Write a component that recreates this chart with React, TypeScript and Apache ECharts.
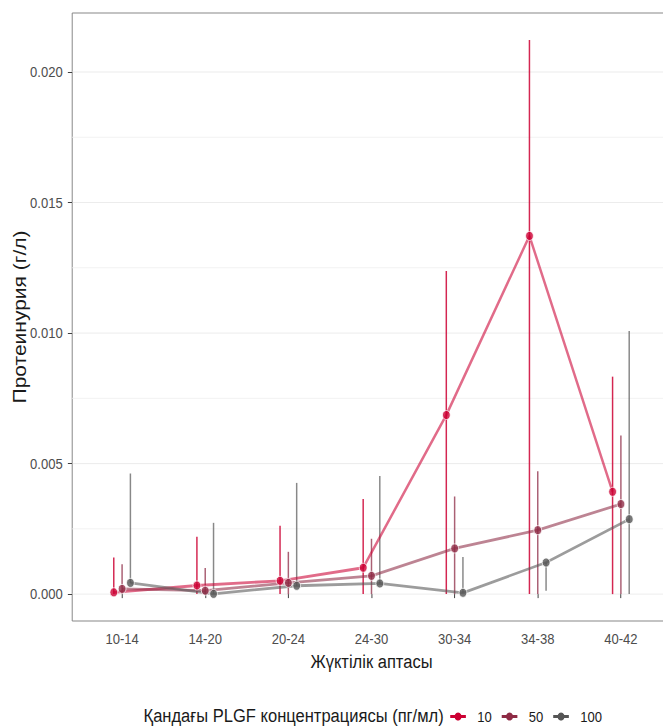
import React, { useEffect, useRef } from "react";
import * as echarts from "echarts";

// Gestational-age groups (x axis)
const categories = ["10-14", "14-20", "20-24", "24-30", "30-34", "34-38", "40-42"];

// PLGF = 10 pg/ml: mean proteinuria and error-bar limits (g/l)
const plgf10Mean = [0.00007, 0.00033, 0.00051, 0.00101, 0.00686, 0.01372, 0.00392];
const plgf10Low = [0, 0, 0, 0, 0, 0, 0];
const plgf10High = [0.0014, 0.0022, 0.00262, 0.00364, 0.01238, 0.02123, 0.00833];

// PLGF = 50 pg/ml
const plgf50Mean = [0.0002, 0.00013, 0.00043, 0.0007, 0.00175, 0.00245, 0.00345];
const plgf50Low = [0, 0, 0, 0, 0, 0, 0];
const plgf50High = [0.00114, 0.001, 0.00162, 0.00212, 0.00374, 0.00471, 0.00608];

// PLGF = 100 pg/ml
const plgf100Mean = [0.00043, 0.00001, 0.00032, 0.00041, 0.00005, 0.00121, 0.00287];
const plgf100Low = [0.00043, 0.00001, 0.00032, 0.00041, 0.00005, 0.00013, 0];
const plgf100High = [0.00462, 0.00273, 0.00426, 0.00452, 0.00142, 0.00121, 0.01008];

// Axis ticks and grid lines
const yTicks = [0, 0.005, 0.01, 0.015, 0.02];
const yMinorGrid = [0.0025, 0.0075, 0.0125, 0.0175];

const FONT = "'Liberation Sans', Arial, Helvetica, sans-serif";

const groups = [
  { name: "10", mean: plgf10Mean, low: plgf10Low, high: plgf10High, color: "#CC0033", barOpacity: 0.85, dodge: -0.1 },
  { name: "50", mean: plgf50Mean, low: plgf50Low, high: plgf50High, color: "#8E2B45", barOpacity: 0.75, dodge: 0 },
  { name: "100", mean: plgf100Mean, low: plgf100Low, high: plgf100High, color: "#555555", barOpacity: 0.7, dodge: 0.1 },
];

function buildOption() {
  const series: any[] = [];

  // light horizontal grid lines
  series.push({
    type: "custom",
    name: "grid",
    silent: true,
    z: 0,
    data: [...yTicks.map((v) => [1, v, 1]), ...yMinorGrid.map((v) => [1, v, 0])],
    renderItem: (params: any, api: any) => {
      const cs = params.coordSys;
      const y = api.coord([1, api.value(1)])[1];
      const major = api.value(2) === 1;
      return {
        type: "line",
        shape: { x1: cs.x, y1: y, x2: cs.x + cs.width, y2: y },
        style: { stroke: major ? "#EBEBEB" : "#F1F1F1", lineWidth: 1 },
      };
    },
  });

  groups.forEach((g) => {
    // error bars
    series.push({
      type: "custom",
      name: "range " + g.name,
      silent: true,
      z: 2,
      data: g.mean.map((_, i) => [i + 1 + g.dodge, g.low[i], g.high[i]]),
      renderItem: (_params: any, api: any) => {
        const x = api.value(0);
        const p1 = api.coord([x, api.value(1)]);
        const p2 = api.coord([x, api.value(2)]);
        return {
          type: "line",
          shape: { x1: p1[0], y1: p1[1], x2: p2[0], y2: p2[1] },
          style: { stroke: g.color, lineWidth: 1.7, opacity: g.barOpacity },
        };
      },
    });
  });

  groups.forEach((g) => {
    // connecting lines
    series.push({
      type: "line",
      name: g.name,
      z: 3,
      showSymbol: false,
      symbol: "circle",
      silent: true,
      itemStyle: { color: g.color },
      lineStyle: { color: g.color, width: 2.8, opacity: 0.58 },
      data: g.mean.map((v, i) => [i + 1 + g.dodge, v]),
    });
  });

  groups.forEach((g) => {
    // mean points
    series.push({
      type: "scatter",
      name: "mean " + g.name,
      z: 4,
      silent: true,
      symbol: "circle",
      symbolSize: 9,
      itemStyle: { color: g.color, borderColor: "#FFFFFF", borderWidth: 1 },
      data: g.mean.map((v, i) => [i + 1 + g.dodge, v]),
    });
  });

  return {
    animation: false,
    textStyle: { fontFamily: FONT },
    grid: {
      left: 83,
      top: 13,
      width: 688,
      height: 608,
      outerBoundsMode: "none",
      containLabel: false,
      show: true,
      borderColor: "#7F7F7F",
      borderWidth: 1,
      backgroundColor: "transparent",
    },
    xAxis: {
      type: "value",
      min: 0.4,
      max: 7.6,
      name: "Жүктілік аптасы",
      nameLocation: "middle",
      nameGap: 31,
      nameMoveOverlap: false,
      nameTextStyle: { fontSize: 19, color: "#1A1A1A", fontFamily: FONT },
      axisLine: { show: false },
      splitLine: { show: false },
      axisTick: {
        show: true,
        length: 4,
        customValues: categories.map((_, i) => i + 1),
        lineStyle: { color: "#333333", width: 1 },
      },
      axisLabel: {
        customValues: categories.map((_, i) => i + 1),
        formatter: (v: number) => categories[Math.round(v) - 1] ?? "",
        fontSize: 15,
        color: "#4D4D4D",
        margin: 10,
        fontFamily: FONT,
      },
    },
    yAxis: {
      type: "value",
      min: -0.00103,
      max: 0.02226,
      name: "Протеинурия (г/л)",
      nameLocation: "middle",
      nameGap: 50,
      nameRotate: 90,
      nameMoveOverlap: false,
      nameTextStyle: { fontSize: 21, color: "#1A1A1A", fontFamily: FONT },
      axisLine: { show: false },
      splitLine: { show: false },
      axisTick: {
        show: true,
        length: 5,
        customValues: yTicks,
        lineStyle: { color: "#333333", width: 1 },
      },
      axisLabel: {
        customValues: yTicks,
        formatter: (v: number) => v.toFixed(3),
        fontSize: 15,
        color: "#4D4D4D",
        margin: 11,
        fontFamily: FONT,
      },
    },
    legend: {
      show: true,
      left: 516,
      top: 709,
      padding: 0,
      itemWidth: 18,
      itemHeight: 10,
      itemGap: 10,
      selectedMode: false,
      textStyle: { fontSize: 15, color: "#1A1A1A", fontFamily: FONT, padding: [0, 0, 0, 8] },
      data: groups.map((g) => ({
        name: g.name,
        itemStyle: { color: g.color, borderWidth: 0 },
        lineStyle: { color: g.color, width: 3, opacity: 1 },
      })),
    },
    graphic: [
      {
        type: "text",
        x: 165,
        y: 716,
        silent: true,
        style: {
          text: "Қандағы PLGF концентрациясы (пг/мл)",
          fontSize: 19,
          fontFamily: FONT,
          fill: "#1A1A1A",
          verticalAlign: "middle",
          align: "left",
        },
      },
    ],
    series,
  };
}

export default function App() {
  const ref = useRef<HTMLDivElement>(null);

  useEffect(() => {
    if (!ref.current) return;
    const chart = echarts.init(ref.current, undefined, { renderer: "svg" });
    chart.setOption(buildOption());
    return () => chart.dispose();
  }, []);

  return (
    <div
      style={{
        position: "absolute",
        left: 0,
        top: 0,
        width: 663,
        height: 727,
        overflow: "hidden",
        background: "#FFFFFF",
      }}
    >
      <div
        ref={ref}
        style={{
          width: 780,
          height: 727,
          transform: "scaleX(0.87)",
          transformOrigin: "0 0",
        }}
      />
    </div>
  );
}
